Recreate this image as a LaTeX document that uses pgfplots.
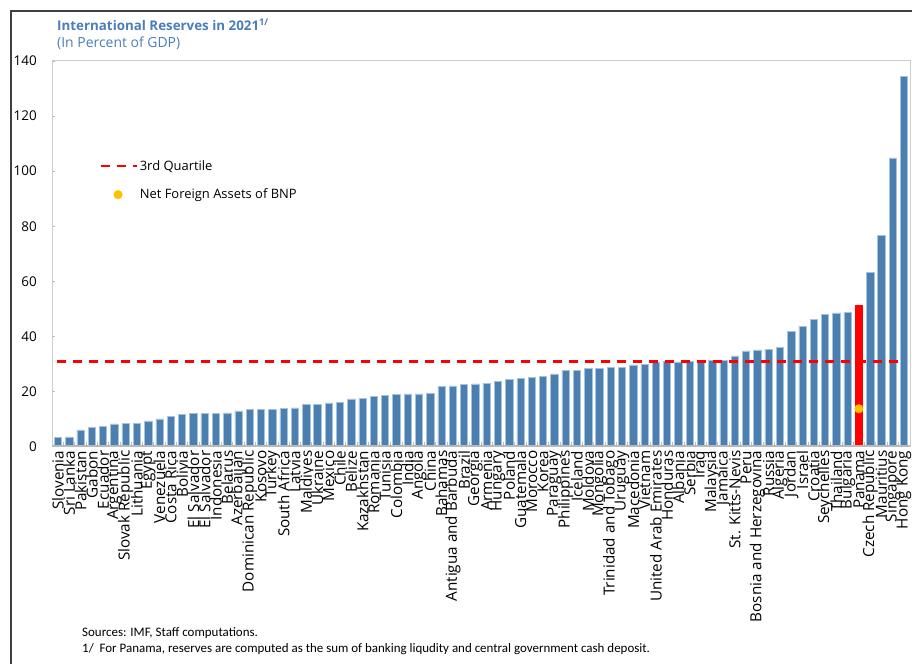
\documentclass[border=0pt]{standalone}
\usepackage{fontspec}
\setmainfont{Open Sans}
\newfontfamily\footfont{Carlito}
\usepackage{pgfplots}
\usepackage{pgfplotstable}
\pgfplotsset{compat=1.18}

\definecolor{barblue}{RGB}{74,127,176}
\definecolor{baredge}{RGB}{165,195,222}
\definecolor{titleblue}{RGB}{74,126,187}
\definecolor{framegrey}{RGB}{205,205,205}
\definecolor{axisgrey}{RGB}{185,185,185}
\definecolor{dotyellow}{RGB}{255,192,0}

% reserves in percent of GDP, sorted; Panama (x=72) kept apart
\pgfplotstableread{
x y
1 3.3
2 3.5
3 6.0
4 6.8
5 7.4
6 8.2
7 8.3
8 8.5
9 9.3
10 10.0
11 10.8
12 11.6
13 11.9
14 11.9
15 12.1
16 12.2
17 12.9
18 13.5
19 13.5
20 13.5
21 13.8
22 14.0
23 15.4
24 15.4
25 15.8
26 16.1
27 17.3
28 17.4
29 18.3
30 18.5
31 19.0
32 19.1
33 19.1
34 19.2
35 21.8
36 22.0
37 22.5
38 22.7
39 23.0
40 23.7
41 24.4
42 24.8
43 25.0
44 25.6
45 26.4
46 27.6
47 27.7
48 28.5
49 28.5
50 28.7
51 28.8
52 29.6
53 29.9
54 30.5
55 30.8
56 30.7
57 30.8
58 31.1
59 31.4
60 31.4
61 32.9
62 34.7
63 35.1
64 35.4
65 36.1
66 41.9
67 43.6
68 46.3
69 48.1
70 48.5
71 48.7
73 63.2
74 76.7
75 104.8
76 134.4
}\reserves

\begin{document}
\begin{tikzpicture}
\useasboundingbox (0,0) rectangle (912bp,664bp);
\draw[line width=1.3bp, black!75] (11bp,0) -- (11bp,653bp) -- (912bp,653bp);

\node[anchor=base west, inner sep=0, text=titleblue, font=\fontsize{13.4}{15}\selectfont\bfseries]
  at (57bp,633bp) {International Reserves in 2021\textsuperscript{1/}};
\node[anchor=base west, inner sep=0, text=titleblue, font=\fontsize{14}{15}\selectfont]
  at (57bp,616bp) {(In Percent of GDP)};

\begin{axis}[
  at={(52bp,217.5bp)}, anchor=south west,
  width=858bp, height=385.5bp, scale only axis,
  xmin=0.47, xmax=76.53, ymin=0, ymax=140,
  axis line style={framegrey, line width=1bp},
  ytick={0,20,...,140},
  ytick pos=left, xtick pos=bottom,
  tick style={axisgrey, line width=0.8bp},
  y tick label style={anchor=east, inner xsep=0pt, xshift=-15bp},
  yticklabel style={font=\fontsize{13.5}{14}\selectfont},
  /pgf/number format/assume math mode=true,
  major tick length=3bp,
  xtick={1,...,76},
  x tick style={draw=none},
  xticklabels={Slovenia,Sri Lanka,Pakistan,Gabon,Ecuador,Argentina,Slovak Republic,Lithuania,Egypt,Venezuela,Costa Rica,Bolivia,El Salvador,El Salvador,Indonesia,Belarus,Azerbaijan,Dominican Republic,Kosovo,Turkey,South Africa,Latvia,Maldives,Ukraine,Mexico,Chile,Belize,Kazakhstan,Romania,Tunisia,Colombia,India,Angola,China,Bahamas,Antigua and Barbuda,Brazil,Georgia,Armenia,Hungary,Poland,Guatemala,Morocco,Korea,Paraguay,Philippines,Iceland,Moldova,Mongolia,Trinidad and Tobago,Uruguay,Macedonia,Vietnam,United Arab Emirates,Honduras,Albania,Serbia,Iraq,Malaysia,Jamaica,St. Kitts-Nevis,Peru,Bosnia and Herzegovina,Russia,Algeria,Jordan,Israel,Croatia,Seychelles,Thailand,Bulgaria,Panama,Czech Republic,Mauritius,Singapore,Hong Kong},
  x tick label style={rotate=90, anchor=east, inner xsep=4bp, inner ysep=0pt,
    font=\fontsize{15.3}{15.3}\selectfont},
  extra x ticks={1.5,2.5,...,75.5},
  extra x tick labels={},
  extra x tick style={x tick style={draw=axisgrey, line width=0.8bp}, major tick length=4bp},
  legend style={at={(0.052,0.75)}, anchor=north west, draw=none, fill=none,
    font=\fontsize{13}{13}\selectfont, row sep=15bp, nodes={inner xsep=1.5bp, inner ysep=1bp}},
  legend cell align=left,
]
\addplot[ybar, bar shift=0pt, bar width=0.65, fill=barblue, draw=baredge, line width=0.6bp, forget plot]
  table[x=x, y=y] {\reserves};
\addplot[ybar, bar shift=0pt, bar width=0.65, fill=red, draw=none, forget plot]
  coordinates {(72,51.4)};
\draw[axisgrey, line width=2bp] (rel axis cs:0,0) -- (rel axis cs:1,0);

\addplot[red, line width=2.5bp, dash pattern=on 9bp off 7bp,
  legend image code/.code={\draw[red, line width=2.5bp, dash pattern=on 9bp off 7bp] (0bp,0bp) -- (36bp,0bp);}]
  coordinates {(0.9,30.8) (75.6,30.8)};
\addlegendentry{3rd Quartile}
\addplot[only marks, mark=*, mark size=4.3bp, color=dotyellow,
  legend image code/.code={\draw[mark repeat=2, mark phase=2] plot coordinates {(0bp,0bp) (17bp,0bp) (36bp,0bp)};}]
  coordinates {(72,13.7)};
\addlegendentry{Net Foreign Assets of BNP}
\end{axis}

\node[anchor=base west, inner sep=0, font=\footfont\fontsize{13}{13}\selectfont] at (82bp,28bp)
  {Sources: IMF, Staff computations.};
\node[anchor=base west, inner sep=0, font=\footfont\fontsize{13}{13}\selectfont] at (82bp,12bp)
  {1/\ \ For Panama, reserves are computed as the sum of banking liqudity and central government cash deposit.};
\end{tikzpicture}
\end{document}
